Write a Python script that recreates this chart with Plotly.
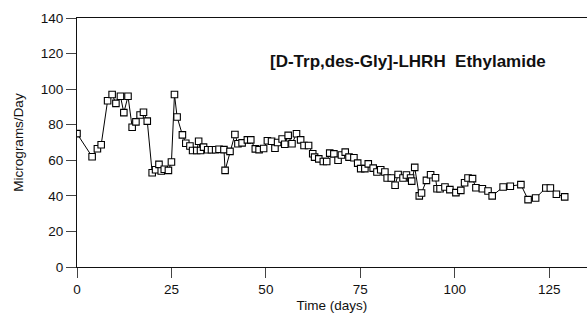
import plotly.graph_objects as go

days = [0, 4.0, 5.4, 6.4, 8.1, 9.3, 10.3, 11.5, 12.4, 13.5, 14.6, 15.6, 16.7, 17.6, 18.6,
        19.9, 20.8, 21.7, 22.3, 23.1, 24.2, 25.0, 25.8, 26.5, 27.9, 28.8, 29.9, 30.6, 31.7,
        32.2, 32.7, 33.5, 34.6, 35.6, 36.7, 37.6, 38.9, 39.2, 40.5, 41.8, 42.6, 43.7, 45.1,
        46.0, 47.2, 48.2, 49.4, 50.4, 51.5, 52.4, 53.1, 54.3, 55.0, 55.9, 56.9, 58.1, 59.2,
        60.1, 61.3, 62.4, 62.9, 64.0, 65.2, 66.1, 66.9, 68.0, 69.1, 70.0, 71.0, 72.0, 73.3,
        74.3, 75.1, 76.2, 77.1, 78.4, 79.4, 80.4, 81.5, 82.1, 83.2, 84.2, 85.0, 86.3, 87.2,
        88.3, 88.6, 89.4, 90.6, 91.2, 92.5, 93.6, 94.9, 95.3, 96.1, 97.4, 98.7, 100.3, 101.6,
        102.6, 103.5, 104.7, 105.6, 107.3, 108.8, 109.9, 112.8, 114.7, 117.5, 119.4, 121.4,
        124.1, 125.3, 126.9, 129.1]
micrograms = [75, 62, 66.5, 68.7, 93.5, 97, 92, 96, 86.8, 96, 78.6, 81.6, 85.5, 87, 82,
              53, 54.7, 57.7, 54, 55, 54.3, 59, 97, 84.3, 74.3, 69.6, 68, 65.5, 65.5,
              70.7, 65.5, 67.4, 65.9, 65.9, 65.9, 66.2, 66, 54.3, 65, 74.5, 69.3, 69.8, 71.5,
              71.5, 66.4, 66, 66.6, 71, 70.7, 66.8, 70, 72, 69, 74, 69.3, 74.9, 71.5,
              68.3, 68.3, 63.7, 61.8, 60.8, 59.3, 59.3, 64, 63.6, 60, 63, 64.6, 61.8, 61.4,
              58.4, 55.3, 55.3, 58, 55.6, 53.4, 54.7, 53.4, 50, 50, 46, 52, 50, 51.7,
              50, 48.3, 56, 40, 41.6, 48.7, 51.9, 50.2, 44, 44, 45, 43.5, 41.8, 43.1,
              47.4, 50, 49.7, 44.6, 44, 42.7, 40, 45, 45.4, 46.3, 37.9, 38.8,
              44.4, 44.4, 40.9, 39.4]

x_ticks = [0, 25, 50, 75, 100, 125]
y_ticks = [0, 20, 40, 60, 80, 100, 120, 140]
label = "[D-Trp,des-Gly]-LHRH  Ethylamide"

FONT = "Liberation Sans, Arial, sans-serif"

fig = go.Figure()
fig.add_trace(go.Scatter(
    x=days, y=micrograms, mode="lines+markers",
    line=dict(color="black", width=1),
    marker=dict(symbol="square", size=6.5, color="white", line=dict(color="black", width=1.1)),
    showlegend=False,
))

fig.update_layout(
    width=587, height=322,
    margin=dict(l=77, r=0, t=18, b=55),
    paper_bgcolor="white", plot_bgcolor="white",
    font=dict(family=FONT, size=13.5, color="#111"),
    xaxis=dict(
        range=[0, 135], tickvals=x_ticks, ticks="outside", ticklen=10, tickwidth=1,
        tickcolor="#444", showline=True, linecolor="#111", linewidth=1.2, mirror=True,
        showgrid=False, zeroline=False,
        title=dict(text="Time (days)", font=dict(size=13.5), standoff=4),
    ),
    yaxis=dict(
        range=[0, 140], tickvals=y_ticks, ticks="outside", ticklen=10, tickwidth=1,
        tickcolor="#444", showline=True, linecolor="#111", linewidth=1.2,
        showgrid=False, zeroline=False,
        title=dict(text="Micrograms/Day", font=dict(size=13.5), standoff=13),
    ),
    annotations=[dict(
        x=0.649, y=0.827, xref="paper", yref="paper", text="<b>" + label + "</b>",
        showarrow=False, font=dict(size=17, color="#111"), xanchor="center", yanchor="middle",
    )],
)

fig.write_html("out.html")
